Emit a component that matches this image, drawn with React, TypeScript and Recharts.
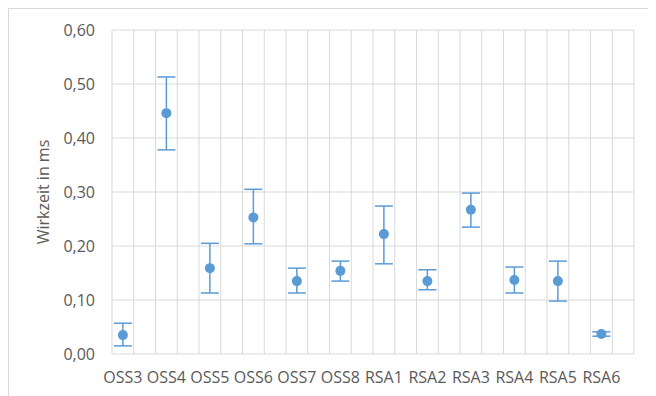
import {
    ScatterChart,
    Scatter,
    XAxis,
    YAxis,
    CartesianGrid,
    ErrorBar,
} from "recharts";

const categories = ["OSS3", "OSS4", "OSS5", "OSS6", "OSS7", "OSS8", "RSA1", "RSA2", "RSA3", "RSA4", "RSA5", "RSA6"];
const meanValues = [0.035, 0.446, 0.159, 0.253, 0.135, 0.154, 0.222, 0.135, 0.267, 0.137, 0.135, 0.037];
const upperValues = [0.057, 0.513, 0.205, 0.305, 0.159, 0.172, 0.274, 0.156, 0.298, 0.161, 0.172, 0.041];
const lowerValues = [0.015, 0.378, 0.113, 0.204, 0.113, 0.135, 0.167, 0.119, 0.235, 0.113, 0.098, 0.033];
const yTicks = [0, 0.1, 0.2, 0.3, 0.4, 0.5, 0.6];

const X_MAX = 24; // Excel-Achse mit halben Kategoriebreiten als Gitter
const xPos = (i: number) => 0.5 + 2 * i;
const xTicks = categories.map((_, i) => xPos(i));

const data = categories.map((name, i) => ({
    name,
    x: xPos(i),
    y: meanValues[i],
    err: [meanValues[i] - lowerValues[i], upperValues[i] - meanValues[i]],
}));

const BLUE = "#5b9bd5";
const TEXT = "#595959";
const FONT = "'Open Sans', sans-serif";

const Dot = (props: any) => <circle cx={props.cx} cy={props.cy} r={5} fill={BLUE} />;

export default function App() {
    return (
        <div
            style={{
                width: 647,
                height: 387,
                borderTop: "1px solid #d9d9d9",
                borderLeft: "1px solid #d9d9d9",
                fontFamily: FONT,
            }}
        >
            <ScatterChart width={647} height={387} margin={{ top: 21, right: 22, left: 0, bottom: 0 }}>
                <CartesianGrid
                    stroke="#d9d9d9"
                    verticalCoordinatesGenerator={({ offset }: any) =>
                        Array.from({ length: X_MAX + 1 }, (_, i) => offset.left + (offset.width * i) / X_MAX)
                    }
                />
                <XAxis
                    type="number"
                    dataKey="x"
                    domain={[0, X_MAX]}
                    ticks={xTicks}
                    interval={0}
                    tickFormatter={(v: number) => categories[Math.round((v - 0.5) / 2)]}
                    axisLine={false}
                    tickLine={false}
                    height={42}
                    tickMargin={12}
                    tick={{ fill: TEXT, fontSize: 16, fontFamily: FONT }}
                />
                <YAxis
                    type="number"
                    dataKey="y"
                    domain={[0, 0.6]}
                    ticks={yTicks}
                    interval={0}
                    tickFormatter={(v: number) => v.toFixed(2).replace(".", ",")}
                    axisLine={false}
                    tickLine={false}
                    width={103}
                    tickMargin={11}
                    tick={{ fill: TEXT, fontSize: 16, fontFamily: FONT }}
                    label={{
                        value: "Wirkzeit in ms",
                        angle: -90,
                        position: "insideLeft",
                        offset: 34,
                        style: { textAnchor: "middle", fill: TEXT, fontSize: 16, fontFamily: FONT },
                    }}
                />
                <Scatter data={data} fill={BLUE} shape={Dot} isAnimationActive={false}>
                    <ErrorBar dataKey="err" direction="y" width={9} stroke={BLUE} strokeWidth={1.5} />
                </Scatter>
            </ScatterChart>
        </div>
    );
}
